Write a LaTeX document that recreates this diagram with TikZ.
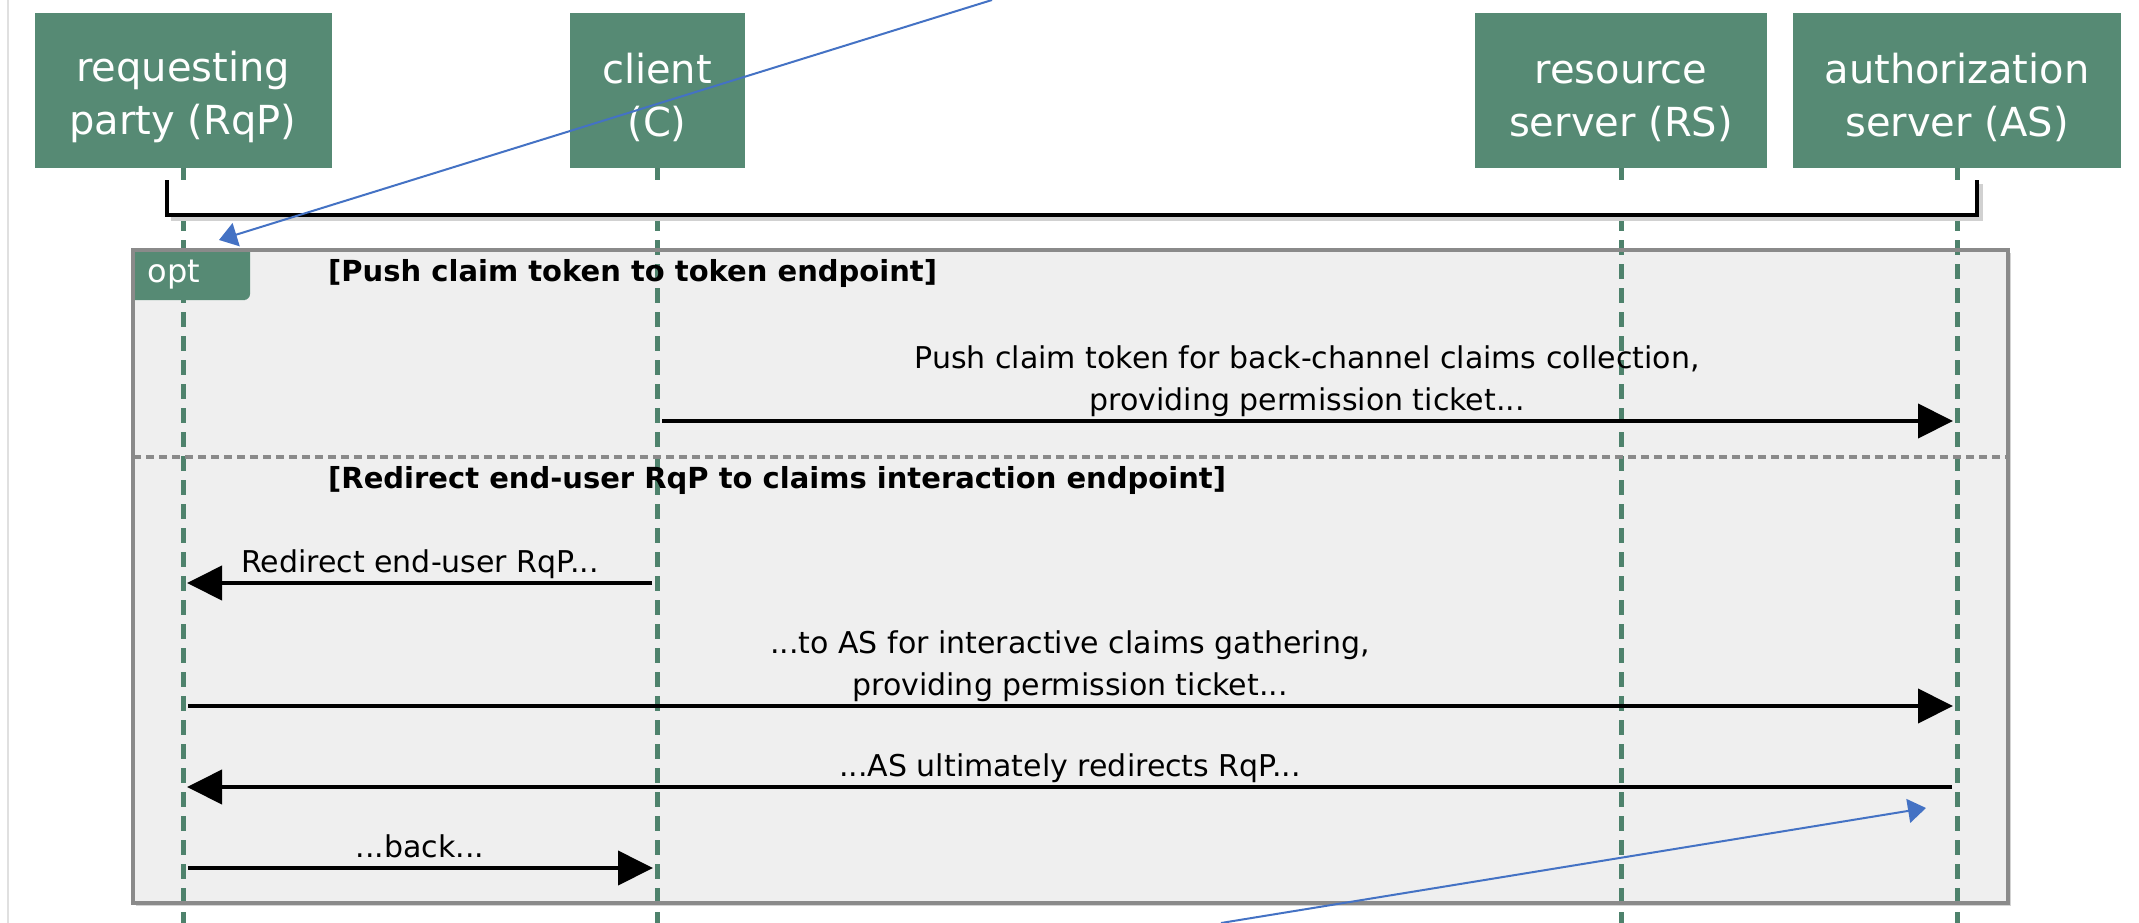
\documentclass[tikz,border=0pt]{standalone}
\usepackage{fontspec}
\setmainfont{DejaVu Sans}
\usetikzlibrary{arrows.meta,shadows}
\definecolor{partgreen}{RGB}{86,138,116}
\definecolor{lifegreen}{RGB}{78,130,108}
\definecolor{framegray}{RGB}{138,138,138}
\definecolor{framefill}{RGB}{239,239,239}
\definecolor{noteblue}{RGB}{68,114,196}
\begin{document}
\begin{tikzpicture}[x=1pt, y=-1pt,
  party/.style={rectangle, fill=partgreen, text=white, align=center, inner sep=0pt,
    minimum height=155pt, text height=97pt, font=\fontsize{40}{53}\selectfont},
  life/.style={draw=lifegreen, line width=5pt, dash pattern=on 15pt off 9pt},
  msg/.style={line width=4pt, shorten <=5pt, shorten >=4pt, -{Triangle[length=35pt, width=34pt]}},
  lbl/.style={above, align=center, inner sep=2pt, text depth=7pt, font=\fontsize{30}{42}\selectfont},
  guard/.style={anchor=west, inner sep=0pt, font=\bfseries\fontsize{29}{35}\selectfont},
  note/.style={draw=noteblue, line width=2pt, -{Triangle[length=18pt, width=24pt]}, noteblue}]
\useasboundingbox (0,0) rectangle (2139,923);
\draw[black!12, line width=1.5pt] (8,0) -- (8,923);

% participants
\node[party, minimum width=297pt] (rqp) at (183,90.5) {requesting\\party (RqP)};
\node[party, minimum width=175pt] (cl) at (657,90.5) {client\\(C)};
\node[party, minimum width=292pt] (rs) at (1621,90.5) {resource\\server (RS)};
\node[party, minimum width=328pt] (as) at (1957,90.5) {authorization\\server (AS)};

% opt frame
\fill[framefill, drop shadow={shadow xshift=3pt, shadow yshift=-3pt, opacity=.35}] (133,250) rectangle (2008,903);

% lifelines
\draw[life] (rqp.south) -- ++(0,755);
\draw[life] (cl.south) -- ++(0,755);
\draw[life] (rs.south) -- ++(0,755);
\draw[life] (as.south) -- ++(0,755);

% bracket
\fill[white] (167,180) rectangle (1977,215);
\draw[black!18, line width=4pt] (171,219) -- (1981,219) -- (1981,184);
\draw[line width=4pt] (167,180) -- (167,215) -- (1977,215) -- (1977,180);

% tab, divider, border
\fill[partgreen] (133,250) -- (250,250) -- (250,289) [rounded corners=6pt] -- (250,300) -- (239,300) [sharp corners] -- (133,300) -- cycle;
\node[text=white, inner sep=0pt, font=\fontsize{32}{38}\selectfont] (opt) at (174,275) {opt};
\draw[framegray, line width=4pt, dash pattern=on 8pt off 5pt] (133,457) -- (2008,457);
\draw[framegray, line width=4pt] (133,250) rectangle (2008,903);
\node[guard] (g1) at (328,273) {[Push claim token to token endpoint]};
\node[guard] (g2) at (328,480) {[Redirect end-user RqP to claims interaction endpoint]};

% messages
\coordinate (r1) at (0,421);
\coordinate (r2) at (0,583);
\coordinate (r3) at (0,706);
\coordinate (r4) at (0,787);
\coordinate (r5) at (0,868);
\draw[msg] (cl |- r1) -- (as |- r1) node[lbl, midway] {Push claim token for back-channel claims collection,\\providing permission ticket...};
\draw[msg] (cl |- r2) -- (rqp |- r2) node[lbl, midway] {Redirect end-user RqP...};
\draw[msg] (rqp |- r3) -- (as |- r3) node[lbl, midway] {...to AS for interactive claims gathering,\\providing permission ticket...};
\draw[msg] (as |- r4) -- (rqp |- r4) node[lbl, midway] {...AS ultimately redirects RqP...};
\draw[msg] (rqp |- r5) -- (cl |- r5) node[lbl, midway] {...back...};

% blue pointers
\coordinate (n1s) at (992,0);
\coordinate (n1e) at (219,240);
\coordinate (n2s) at (1221,923);
\coordinate (n2e) at (1926,808);
\draw[note] (n1s) -- (n1e);
\draw[note] (n2s) -- (n2e);
\end{tikzpicture}
\end{document}
